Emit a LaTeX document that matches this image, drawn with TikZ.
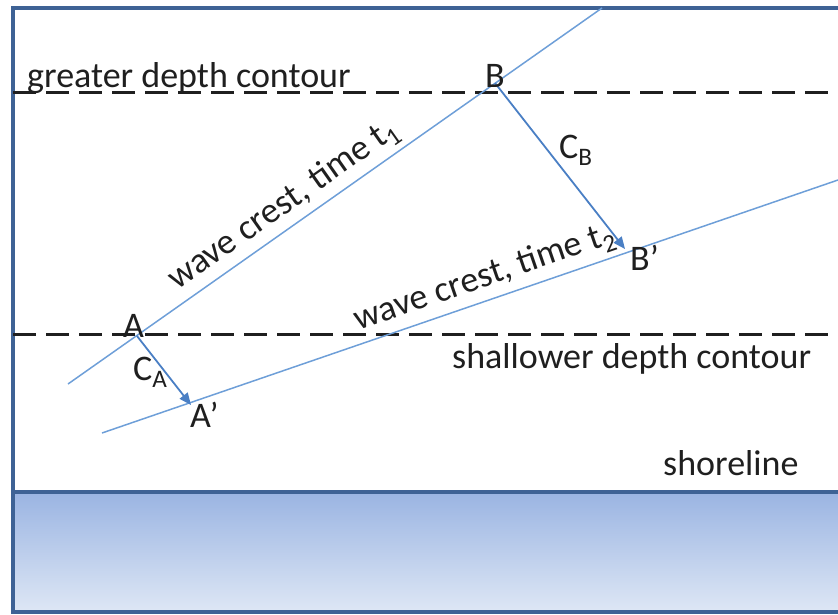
\documentclass[tikz,border=0pt]{standalone}
\usepackage{fontspec}
\setmainfont{Carlito}
\usepackage{xcolor}
\usetikzlibrary{arrows.meta,positioning,calc}
\definecolor{frameblue}{HTML}{3E6295}
\definecolor{crestblue}{HTML}{6E9FD8}
\definecolor{arrowblue}{HTML}{4A7FC4}
\definecolor{seatop}{HTML}{9AB4E2}
\definecolor{seabot}{HTML}{DEE7F5}
\tikzset{
  lbl/.style={font=\fontsize{36}{43}\selectfont, inner sep=0pt, text=black!88},
  crest/.style={crestblue, line width=1.5pt},
  contour/.style={black!88, line width=3pt, dash pattern=on 23pt off 10pt},
  celer/.style={arrowblue, line width=1.8pt, -{Triangle[length=12pt,width=10pt]}},
  rim/.style={frameblue, line width=4pt},
}

\begin{document}
\begin{tikzpicture}[x=1pt, y=-1pt]
  \useasboundingbox (0,0) rectangle (838,614);
  % ── sea below the shoreline ───────────────────────────────────────
  \shade[top color=seatop, bottom color=seabot] (13,492) rectangle (838,612);
  % ── frame ─────────────────────────────────────────────────────────
  \draw[rim] (838,8) -- (13,8) -- (13,612) -- (838,612);
  \draw[rim] (13,492) -- (838,492);
  % ── depth contours ────────────────────────────────────────────────
  \coordinate (deepw) at (13,92);
  \coordinate (deepe) at (838,92);
  \coordinate (shallw) at (13,334);
  \coordinate (shalle) at (838,334);
  \draw[contour] (deepw) -- (deepe);
  \draw[contour] (shallw) -- (shalle);
  % ── wave crests at t1 and t2 ──────────────────────────────────────
  \coordinate (crestones) at (68,384);
  \coordinate (crestonee) at (602,8);
  \coordinate (cresttwos) at (102,433);
  \coordinate (cresttwoe) at (838,180);
  \draw[crest] (crestones) -- (crestonee)
    node[lbl, sloped, pos=0.428, above=5pt] (tonelbl) {wave crest, time t\textsubscript{1}};
  \draw[crest] (cresttwos) -- (cresttwoe)
    node[lbl, sloped, pos=0.53, above=5pt] (ttwolbl) {wave crest, time t\textsubscript{2}};
  % ── points on the crests ──────────────────────────────────────────
  \coordinate (A)  at (137,336);
  \coordinate (B)  at (495,83);
  \coordinate (A') at (191,405);
  \coordinate (B') at (625,249);
  \draw[celer] (A) -- (A');
  \draw[celer] (B) -- (B');
  % ── labels ────────────────────────────────────────────────────────
  \node[lbl, anchor=base west] (deeplbl) at (27,87) {greater depth contour};
  \node[lbl, anchor=base west] (shalllbl) at (452,368) {shallower depth contour};
  \node[lbl, anchor=base west] (shorelbl) at (663,475) {shoreline};
  \node[lbl, anchor=base west] (Albl) at (123,337) {A};
  \node[lbl, anchor=base west] (Blbl) at (485,87) {B};
  \node[lbl, anchor=base west] (Aplbl) at (190,427) {A’};
  \node[lbl, anchor=base west] (Bplbl) at (630,270) {B’};
  \node[lbl, anchor=base west] (CAlbl) at (133,380) {C\textsubscript{A}};
  \node[lbl, anchor=base west] (CBlbl) at (559,158) {C\textsubscript{B}};
\end{tikzpicture}
\end{document}
